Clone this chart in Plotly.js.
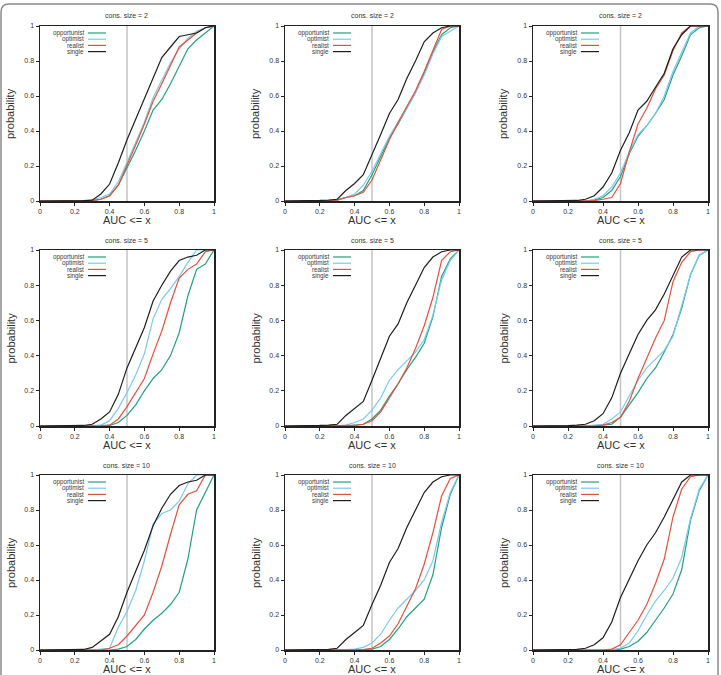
<!DOCTYPE html>
<html>
<head>
<meta charset="utf-8">
<script src="https://cdn.plot.ly/plotly-3.0.1.min.js"></script>
<style>html,body{margin:0;padding:0;background:#fff;}#chart{width:721px;height:675px;}</style>
</head>
<body>
<div id="chart"></div>
<script>
// AUC thresholds (x)
var aucX = [0,0.05,0.1,0.15,0.2,0.25,0.3,0.35,0.4,0.45,0.5,0.55,0.6,0.65,0.7,0.75,0.8,0.85,0.9,0.95,1];
var tickVals = [0,0.2,0.4,0.6,0.8,1];
var tickText = ['0','0.2','0.4','0.6','0.8','1'];
var seriesNames = ['opportunist','optimist','realist','single'];
var panelTitles = ['cons. size = 2','cons. size = 2','cons. size = 2',
                   'cons. size = 5','cons. size = 5','cons. size = 5',
                   'cons. size = 10','cons. size = 10','cons. size = 10'];

// Row 1 (cons. size = 2)
var p1_opportunist = [0,0,0,0,0,0,0.002,0.01,0.03,0.09,0.19,0.29,0.4,0.52,0.58,0.67,0.77,0.87,0.92,0.96,1];
var p1_optimist    = [0,0,0,0,0,0,0.005,0.02,0.04,0.11,0.22,0.33,0.45,0.59,0.69,0.79,0.87,0.93,0.97,0.99,1];
var p1_realist     = [0,0,0,0,0,0,0.002,0.01,0.03,0.09,0.2,0.32,0.44,0.57,0.67,0.78,0.88,0.92,0.96,0.99,1];
var p1_single      = [0,0,0,0,0,0.002,0.005,0.04,0.097,0.217,0.35,0.47,0.58,0.71,0.82,0.88,0.94,0.95,0.96,0.99,1];

var p2_opportunist = [0,0,0,0,0,0,0.005,0.02,0.03,0.06,0.15,0.26,0.36,0.44,0.53,0.62,0.73,0.85,0.95,0.99,1];
var p2_optimist    = [0,0,0,0,0,0,0.01,0.02,0.04,0.09,0.17,0.27,0.37,0.45,0.53,0.62,0.72,0.84,0.94,0.97,1];
var p2_realist     = [0,0,0,0,0,0,0.005,0.02,0.03,0.05,0.12,0.24,0.35,0.45,0.54,0.63,0.74,0.86,0.98,1,1];
var p2_single      = [0,0,0,0,0.003,0.005,0.01,0.06,0.1,0.15,0.26,0.38,0.5,0.58,0.7,0.8,0.91,0.96,0.99,1,1];

var p3_opportunist = [0,0,0,0,0,0,0,0.005,0.02,0.06,0.14,0.27,0.37,0.43,0.5,0.58,0.72,0.83,0.95,0.99,1];
var p3_optimist    = [0,0,0,0,0,0,0,0.01,0.03,0.08,0.16,0.28,0.38,0.43,0.5,0.6,0.74,0.85,0.96,1,1];
var p3_realist     = [0,0,0,0,0,0,0,0.002,0.01,0.02,0.1,0.28,0.44,0.53,0.64,0.72,0.86,0.96,1,1,1];
var p3_single      = [0,0,0,0,0,0.003,0.01,0.03,0.08,0.16,0.29,0.39,0.52,0.57,0.65,0.73,0.87,0.95,1,1,1];

// Row 2 (cons. size = 5)
var p4_opportunist = [0,0,0,0,0,0,0,0,0.003,0.02,0.06,0.12,0.2,0.27,0.32,0.4,0.53,0.74,0.89,0.92,1];
var p4_optimist    = [0,0,0,0,0,0,0,0.005,0.03,0.1,0.19,0.29,0.41,0.61,0.72,0.78,0.85,0.93,1,1,1];
var p4_realist     = [0,0,0,0,0,0,0,0,0.005,0.04,0.11,0.19,0.27,0.41,0.54,0.7,0.84,0.89,0.92,0.99,1];
var p4_single      = [0,0,0,0,0,0.003,0.01,0.04,0.08,0.18,0.33,0.45,0.56,0.71,0.8,0.88,0.94,0.96,0.97,1,1];

var p5_opportunist = [0,0,0,0,0,0,0,0,0.005,0.01,0.04,0.09,0.17,0.24,0.32,0.39,0.47,0.62,0.85,0.95,1];
var p5_optimist    = [0,0,0,0,0,0,0,0.005,0.02,0.04,0.09,0.16,0.26,0.32,0.37,0.42,0.49,0.63,0.83,0.94,1];
var p5_realist     = [0,0,0,0,0,0,0,0,0.003,0.01,0.03,0.08,0.16,0.24,0.33,0.44,0.57,0.73,0.94,0.99,1];
var p5_single      = [0,0,0,0,0.003,0.005,0.01,0.06,0.1,0.14,0.26,0.38,0.51,0.58,0.7,0.8,0.9,0.96,0.99,1,1];

var p6_opportunist = [0,0,0,0,0,0,0,0,0.005,0.01,0.05,0.12,0.19,0.27,0.33,0.42,0.52,0.67,0.86,0.97,1];
var p6_optimist    = [0,0,0,0,0,0,0,0.005,0.01,0.04,0.08,0.17,0.26,0.33,0.38,0.43,0.51,0.68,0.86,0.97,1];
var p6_realist     = [0,0,0,0,0,0,0,0,0.005,0.02,0.05,0.14,0.27,0.39,0.5,0.6,0.82,0.93,0.99,1,1];
var p6_single      = [0,0,0,0,0.002,0.005,0.01,0.03,0.07,0.16,0.3,0.41,0.52,0.6,0.66,0.75,0.86,0.96,1,1,1];

// Row 3 (cons. size = 10)
var p7_opportunist = [0,0,0,0,0,0,0,0,0,0.005,0.02,0.06,0.12,0.17,0.21,0.26,0.33,0.52,0.8,0.9,1];
var p7_optimist    = [0,0,0,0,0,0,0,0.005,0.01,0.13,0.22,0.34,0.51,0.72,0.78,0.8,0.85,0.95,1,1,1];
var p7_realist     = [0,0,0,0,0,0,0,0,0.01,0.03,0.08,0.14,0.2,0.33,0.48,0.66,0.83,0.89,0.91,1,1];
var p7_single      = [0,0,0,0,0,0.003,0.015,0.05,0.09,0.19,0.33,0.45,0.57,0.71,0.81,0.89,0.94,0.96,0.97,1,1];

var p8_opportunist = [0,0,0,0,0,0,0,0,0,0.002,0.005,0.02,0.06,0.12,0.19,0.24,0.29,0.43,0.7,0.89,1];
var p8_optimist    = [0,0,0,0,0,0,0,0.002,0.005,0.015,0.04,0.09,0.17,0.24,0.29,0.34,0.4,0.51,0.73,0.9,1];
var p8_realist     = [0,0,0,0,0,0,0,0,0,0.002,0.01,0.04,0.08,0.15,0.25,0.35,0.49,0.67,0.88,0.98,1];
var p8_single      = [0,0,0,0,0.002,0.004,0.01,0.06,0.1,0.14,0.26,0.37,0.5,0.58,0.7,0.8,0.9,0.96,0.99,1,1];

var p9_opportunist = [0,0,0,0,0,0,0,0,0,0,0.005,0.02,0.05,0.1,0.17,0.24,0.32,0.46,0.74,0.91,1];
var p9_optimist    = [0,0,0,0,0,0,0,0,0,0.002,0.01,0.04,0.11,0.2,0.28,0.34,0.41,0.53,0.75,0.92,1];
var p9_realist     = [0,0,0,0,0,0,0,0,0,0.005,0.03,0.1,0.17,0.26,0.38,0.52,0.76,0.92,0.99,1,1];
var p9_single      = [0,0,0,0,0.002,0.004,0.01,0.03,0.07,0.16,0.3,0.41,0.51,0.6,0.67,0.76,0.86,0.96,1,1,1];

var panelData = [
  [p1_opportunist,p1_optimist,p1_realist,p1_single],
  [p2_opportunist,p2_optimist,p2_realist,p2_single],
  [p3_opportunist,p3_optimist,p3_realist,p3_single],
  [p4_opportunist,p4_optimist,p4_realist,p4_single],
  [p5_opportunist,p5_optimist,p5_realist,p5_single],
  [p6_opportunist,p6_optimist,p6_realist,p6_single],
  [p7_opportunist,p7_optimist,p7_realist,p7_single],
  [p8_opportunist,p8_optimist,p8_realist,p8_single],
  [p9_opportunist,p9_optimist,p9_realist,p9_single]
];

var colors = ['#22a07e','#7cc8ef','#e4503e','#1e1e1e'];
var W = 721, H = 675;
var colPx = [[40,214],[285,459],[533,708]];
var rowPx = [[26,201],[250,426],[475,650]];
var fontFam = 'Liberation Sans, Arial, sans-serif';

var traces = [];
var layout = {
  width: W, height: H,
  margin: {l:0,r:0,t:0,b:0},
  paper_bgcolor: '#fff', plot_bgcolor: '#fff',
  showlegend: false,
  font: {family: fontFam, color: '#333'},
  annotations: [], shapes: []
};

// outer rounded frame
function px(x){return x/W;} function py(y){return 1-y/H;}
layout.shapes.push({
  type:'path', xref:'paper', yref:'paper', layer:'above',
  path: 'M '+px(1)+','+py(700)+' L '+px(1)+','+py(12)+' Q '+px(1)+','+py(4)+' '+px(9)+','+py(4)+
        ' L '+px(710)+','+py(4)+' Q '+px(718)+','+py(4)+' '+px(718)+','+py(12)+' L '+px(718)+','+py(700),
  line:{color:'#8a8a8a', width:1.5}
});

for (var p = 0; p < 9; p++) {
  var r = Math.floor(p/3), c = p%3;
  var idx = p === 0 ? '' : String(p+1);
  var xa = 'x'+idx, ya = 'y'+idx;
  var axStyle = {
    range:[0,1], tickvals: tickVals, ticktext: tickText,
    ticks:'outside', ticklen:3, tickwidth:1, tickcolor:'#222',
    showline:true, mirror:true, linecolor:'#222', linewidth:1.5,
    showgrid:false, zeroline:false, fixedrange:true,
    tickfont:{size:7, color:'#333', family: fontFam}
  };
  var xo = Object.assign({}, axStyle, {domain:[colPx[c][0]/W, colPx[c][1]/W], anchor: ya});
  var yo = Object.assign({}, axStyle, {domain:[1-rowPx[r][1]/H, 1-rowPx[r][0]/H], anchor: xa});
  layout['xaxis'+idx] = xo;
  layout['yaxis'+idx] = yo;

  for (var s = 0; s < 4; s++) {
    traces.push({
      type:'scatter', mode:'lines', x: aucX, y: panelData[p][s], name: seriesNames[s],
      xaxis: xa, yaxis: ya, line:{color: colors[s], width:1.2}, hoverinfo:'skip'
    });
  }

  var xd = xa+' domain', yd = ya+' domain';
  // reference line at 0.5
  layout.shapes.push({type:'line', xref: xa, yref: yd, x0:0.5, x1:0.5, y0:0, y1:1, layer:'below',
    line:{color:'#c4c4c4', width:1.5}});

  var pw = colPx[c][1]-colPx[c][0], ph = rowPx[r][1]-rowPx[r][0];
  // panel title
  layout.annotations.push({xref: xd, yref: yd, x:0.5, y:1, yshift:10, yanchor:'middle', showarrow:false,
    text: panelTitles[p], font:{size:7, color:'#333'}});
  // x title
  layout.annotations.push({xref: xd, yref: yd, x:0.5, y:0, yshift:-19, yanchor:'middle', showarrow:false,
    text: 'AUC &lt;= x', font:{size:11, color:'#333'}});
  // y title
  layout.annotations.push({xref: xd, yref: yd, x:0, xshift:-29.5, y:0.5, xanchor:'center', yanchor:'middle',
    textangle:-90, showarrow:false, text:'probability', font:{size:11, color:'#333'}});
  // custom legend
  for (var s2 = 0; s2 < 4; s2++) {
    var ly = 1 - (7 + 6.2*s2)/ph;
    layout.annotations.push({xref: xd, yref: yd, x: 45/pw, y: ly, xanchor:'right', yanchor:'middle',
      showarrow:false, text: seriesNames[s2], borderpad:0, font:{size:6.3, color:'#3a3a3a'}});
    layout.shapes.push({type:'line', xref: xd, yref: yd, x0: 48/pw, x1: 66/pw, y0: ly, y1: ly,
      line:{color: colors[s2], width:1.2}});
  }
}

Plotly.newPlot('chart', traces, layout, {staticPlot:true, displayModeBar:false});
</script>
</body>
</html>
